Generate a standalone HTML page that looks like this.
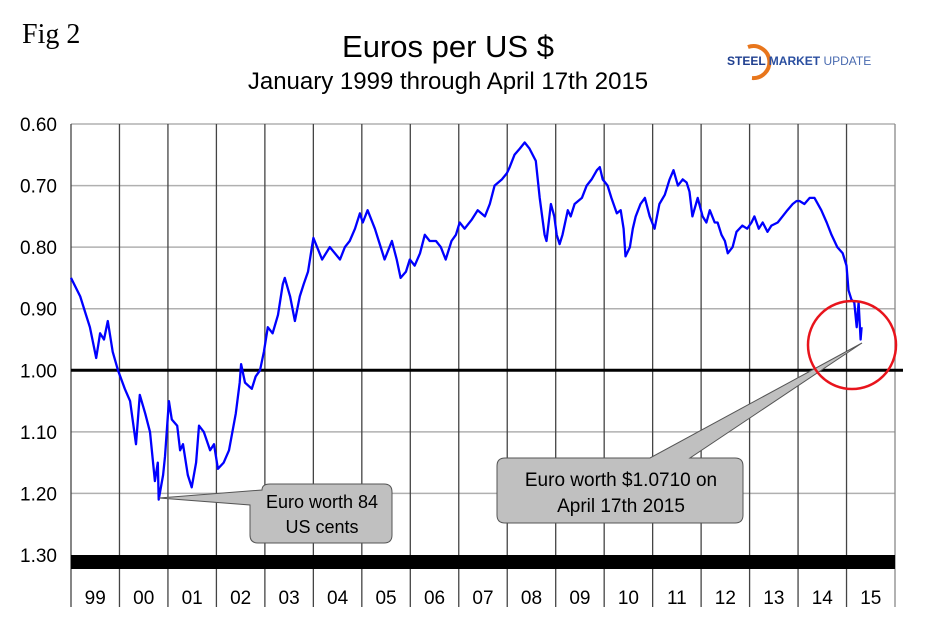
<!DOCTYPE html>
<html><head><meta charset="utf-8"><style>
body{margin:0;background:#fff;}
svg{display:block;font-family:"Liberation Sans",sans-serif;}
</style></head><body>
<svg id="chart" width="926" height="633" viewBox="0 0 926 633">
<text x="22" y="43" font-family="Liberation Serif" font-size="28">Fig 2</text>
<text x="448" y="57" font-size="31" text-anchor="middle">Euros per US $</text>
<text x="448" y="89" font-size="24" text-anchor="middle">January 1999 through April 17th 2015</text>
<g>
<path d="M748,47 A16,16 0 1 1 752,78" fill="none" stroke="#e8761c" stroke-width="4"/>
<text x="727" y="65" font-size="12" font-weight="bold" fill="#1f3f8f">STEEL <tspan font-weight="bold" fill="#2b4fa0">MARKET</tspan> <tspan font-weight="normal" fill="#4a6bb0">UPDATE</tspan></text>
</g>
<g id="grid"></g>
<g id="axes"></g>
<g id="series"></g>
<g>
<path d="M159,498 L262,490 Q262,484 270,484 L384,484 Q392,484 392,492 L392,535 Q392,543 384,543 L258,543 Q250,543 250,535 L250,505 Z" fill="#c0c0c0" stroke="#555" stroke-width="1"/>
<text x="322" y="508" font-size="18" text-anchor="middle">Euro worth 84</text>
<text x="322" y="533" font-size="18" text-anchor="middle">US cents</text>
</g>
<g>
<path d="M862,343 L690,458 L735,458 Q743,458 743,466 L743,515 Q743,523 735,523 L505,523 Q497,523 497,515 L497,466 Q497,458 505,458 L650,458 Z" fill="#c0c0c0" stroke="#555" stroke-width="1"/>
<text x="621" y="486" font-size="19" text-anchor="middle">Euro worth $1.0710 on</text>
<text x="621" y="512" font-size="19" text-anchor="middle">April 17th 2015</text>
</g>
<circle cx="852" cy="345" r="44" fill="none" stroke="#e8141c" stroke-width="2.5"/>
</svg>
<script>
const yTicks=[0.6,0.7,0.8,0.9,1.0,1.1,1.2,1.3];
const yTickLabels=["0.60","0.70","0.80","0.90","1.00","1.10","1.20","1.30"];
const yearLabels=["99","00","01","02","03","04","05","06","07","08","09","10","11","12","13","14","15"];
const dates=[1999.00,1999.19,1999.31,1999.39,1999.52,1999.60,1999.68,1999.76,1999.86,1999.97,
2000.11,2000.22,2000.34,2000.42,2000.53,2000.63,2000.73,2000.79,2000.81,2000.90,2000.94,
2001.02,2001.08,2001.19,2001.25,2001.31,2001.41,2001.49,2001.58,2001.64,2001.74,2001.87,2001.95,
2002.03,2002.15,2002.26,2002.40,2002.48,2002.51,2002.59,2002.73,2002.81,2002.90,2002.98,
2003.06,2003.16,2003.27,2003.37,2003.41,2003.52,2003.62,2003.72,2003.80,2003.89,2003.97,
2004.00,2004.18,2004.34,2004.55,2004.65,2004.75,2004.86,2004.96,
2005.02,2005.12,2005.27,2005.39,2005.47,2005.62,2005.72,2005.80,2005.91,2005.99,
2006.09,2006.20,2006.30,2006.40,2006.53,2006.63,2006.73,2006.85,2006.94,
2007.02,2007.12,2007.27,2007.39,2007.54,2007.64,2007.74,2007.89,2007.99,
2008.05,2008.15,2008.26,2008.36,2008.46,2008.59,2008.67,2008.77,2008.81,2008.90,2008.97,
2009.02,2009.08,2009.14,2009.25,2009.31,2009.39,2009.54,2009.64,2009.74,2009.85,2009.91,2009.97,
2010.07,2010.15,2010.26,2010.34,2010.40,2010.44,2010.53,2010.59,2010.65,2010.75,2010.84,2010.94,
2011.04,2011.14,2011.25,2011.35,2011.43,2011.52,2011.62,2011.70,2011.76,2011.82,2011.93,
2012.03,2012.11,2012.18,2012.28,2012.34,2012.42,2012.49,2012.55,2012.65,2012.73,2012.85,2012.95,
2013.04,2013.10,2013.19,2013.27,2013.37,2013.45,2013.58,2013.68,2013.78,2013.89,2013.97,
2014.03,2014.13,2014.24,2014.34,2014.48,2014.59,2014.69,2014.81,2014.92,
2015.00,2015.04,2015.10,2015.16,2015.21,2015.25,2015.29,2015.31];
const rates=[0.85,0.88,0.91,0.93,0.98,0.94,0.95,0.92,0.97,1.00,
1.03,1.05,1.12,1.04,1.07,1.10,1.18,1.15,1.21,1.17,1.14,
1.05,1.08,1.09,1.13,1.12,1.17,1.19,1.15,1.09,1.10,1.13,1.12,
1.16,1.15,1.13,1.07,1.02,0.99,1.02,1.03,1.01,1.00,0.97,
0.93,0.94,0.91,0.86,0.85,0.88,0.92,0.88,0.86,0.84,0.80,
0.785,0.82,0.80,0.82,0.80,0.79,0.77,0.745,
0.76,0.74,0.77,0.80,0.82,0.79,0.82,0.85,0.84,0.82,
0.83,0.81,0.78,0.79,0.79,0.80,0.82,0.79,0.78,
0.76,0.77,0.755,0.74,0.75,0.73,0.70,0.69,0.68,
0.67,0.65,0.64,0.63,0.64,0.66,0.72,0.78,0.79,0.73,0.75,
0.78,0.795,0.78,0.74,0.75,0.73,0.72,0.70,0.69,0.675,0.67,0.69,
0.70,0.72,0.745,0.74,0.77,0.815,0.80,0.77,0.75,0.73,0.72,0.75,
0.77,0.73,0.715,0.69,0.675,0.70,0.69,0.695,0.71,0.75,0.72,
0.75,0.76,0.74,0.76,0.76,0.78,0.79,0.81,0.80,0.775,0.765,0.77,
0.76,0.75,0.77,0.76,0.775,0.765,0.76,0.75,0.74,0.73,0.725,
0.725,0.73,0.72,0.72,0.74,0.76,0.78,0.80,0.81,
0.83,0.87,0.885,0.89,0.93,0.89,0.95,0.93];
const NS="http://www.w3.org/2000/svg";
const L=71,R=895,T=124,B=555;
function xs(t){return L+(t-1999)*(R-L)/17;}
function ys(v){return T+(v-0.6)*(B-T)/0.7;}
function mk(tag,parent,attrs){const e=document.createElementNS(NS,tag);for(const k in attrs)e.setAttribute(k,attrs[k]);parent.appendChild(e);return e;}
const grid=document.getElementById('grid'),axes=document.getElementById('axes'),series=document.getElementById('series');
yTicks.forEach((v,i)=>{
  if(v<1.3&&v!==1.0){const l=mk('line',grid,{x1:L,x2:R,y1:ys(v),y2:ys(v),stroke:'#b0b0b0','stroke-width':1.5});
  
  }
  const t=mk('text',axes,{x:57,y:ys(v)+7,'font-size':19,'text-anchor':'end'});t.textContent=yTickLabels[i];
  
  
});
for(let i=0;i<=17;i++){const x=xs(1999+i);
  const l=mk('line',grid,{x1:x,x2:x,y1:T,y2:607,stroke:i==17?'#888':'#444','stroke-width':1.3});
  
  
}
yearLabels.forEach((s,i)=>{const t=mk('text',axes,{x:xs(1999.5+i),y:604,'font-size':19,'text-anchor':'middle'});t.textContent=s;
  
  });
const par=mk('line',axes,{x1:L,x2:903,y1:ys(1.0),y2:ys(1.0),stroke:'#000','stroke-width':3});


const bar=mk('rect',axes,{x:L,y:B,width:R-L,height:14,fill:'#000'});


const pts=dates.map((d,i)=>xs(d).toFixed(1)+','+ys(rates[i]).toFixed(1)).join(' ');
const pl=mk('polyline',series,{points:pts,fill:'none',stroke:'#0000ff','stroke-width':2.3,'stroke-linejoin':'round'});


</script>
</body></html>
